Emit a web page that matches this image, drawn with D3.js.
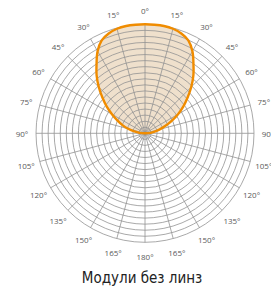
<!DOCTYPE html>
<html>
<head>
<meta charset="utf-8">
<script src="https://cdn.jsdelivr.net/npm/d3@7"></script>
<style>
  html, body { margin: 0; padding: 0; background: #fff; }
  svg { display: block; }
</style>
</head>
<body>
<svg id="chart" width="271" height="286"></svg>
<script>
// Polar light-distribution data (angle in degrees, relative intensity 0..1)
const curveAngles = [-90,-85,-80,-75,-70,-65,-60,-55,-50,-45,-40,-35,-30,-25,-20,-15,-10,-5,0,5,10,15,20,25,30,35,40,45,50,55,60,65,70,75,80,85,90];
const curveValues = [0.0,0.05,0.1,0.16,0.22,0.28,0.35,0.43,0.51,0.6,0.69,0.775,0.87,0.94,0.975,0.993,1.0,1.0,1.0,1.0,1.0,0.993,0.975,0.94,0.87,0.775,0.69,0.6,0.51,0.43,0.35,0.27,0.2,0.14,0.09,0.05,0.0];
const ringLevels = [1,2,3,4,5,6,7,8,9,10,11,12,13,14,15,16,17,18];
const ringMax = 18;
const spokeAngles = [0,15,30,45,60,75,90,105,120,135,150,165,180,195,210,225,240,255,270,285,300,315,330,345];
const labelAngles = [-165,-150,-135,-120,-105,-90,-75,-60,-45,-30,-15,0,15,30,45,60,75,90,105,120,135,150,165,180];
const title = "Модули без линз";

const svg = d3.select("#chart");
const cx = 145, cy = 133.3, R = 109;
const g = svg.append("g").attr("transform", `translate(${cx},${cy})`);

const rScale = d3.scaleLinear().domain([0, 1]).range([0, R]);
const ringScale = d3.scaleLinear().domain([0, ringMax]).range([0, R]);
const toRad = d => d * Math.PI / 180;

const pts = curveAngles.map((a, i) => [toRad(a), rScale(curveValues[i])]);
const line = d3.lineRadial().angle(d => d[0]).radius(d => d[1]).curve(d3.curveCatmullRomClosed);

// fill
g.append("path").attr("d", line(pts)).attr("fill", "#efe0cc").attr("stroke", "none");

// grid rings
g.selectAll("circle.ring").data(ringLevels).join("circle")
  .attr("class", "ring")
  .attr("r", d => ringScale(d))
  .attr("fill", "none").attr("stroke", "#939393").attr("stroke-width", 0.8);

// spokes
g.selectAll("line.spoke").data(spokeAngles).join("line")
  .attr("class", "spoke")
  .attr("x1", 0).attr("y1", 0)
  .attr("x2", d => R * Math.sin(toRad(d)))
  .attr("y2", d => -R * Math.cos(toRad(d)))
  .attr("stroke", "#939393").attr("stroke-width", 0.8);

// curve outline
g.append("path").attr("d", line(pts)).attr("fill", "none")
  .attr("stroke", "#f08c00").attr("stroke-width", 2.4).attr("stroke-linejoin", "round");

// angle labels
const LR = 123;
g.selectAll("text.lab").data(labelAngles).join("text")
  .attr("class", "lab")
  .attr("x", d => LR * Math.sin(toRad(d)))
  .attr("y", d => -LR * Math.cos(toRad(d)))
  .attr("text-anchor", "middle")
  .attr("dominant-baseline", "central")
  .attr("font-family", "'Open Sans', 'Noto Sans', sans-serif")
  .attr("font-size", 8)
  .attr("fill", "#5a5a5a")
  .text(d => Math.abs(d) + "°");

// title
svg.append("text")
  .attr("x", 142).attr("y", 283)
  .attr("text-anchor", "middle")
  .attr("font-family", "'Liberation Sans Narrow', 'DejaVu Sans Condensed', sans-serif")
  .attr("font-size", 15)
  .attr("fill", "#222")
  .text(title);
</script>
</body>
</html>
